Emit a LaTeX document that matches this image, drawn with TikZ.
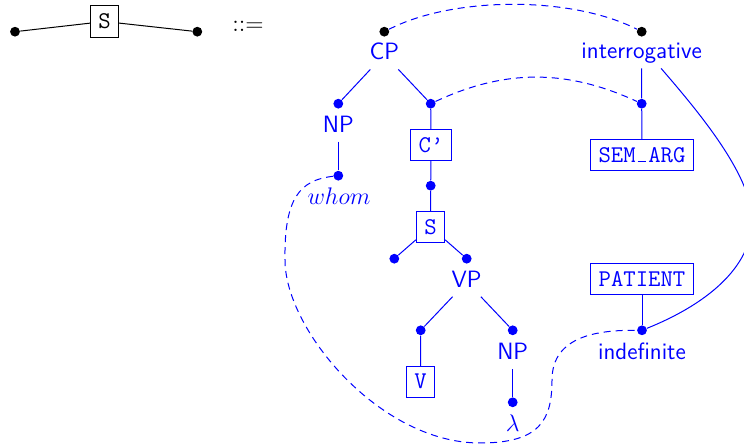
\documentclass[tikz,border=0pt]{standalone}
\newcommand{\myus}{\makebox[0.525em][c]{\rule{0.36em}{0.5pt}}}
\begin{document}
\begin{tikzpicture}[x=0.5pt,y=-0.5pt,
  dotb/.style={circle,fill=black,inner sep=0pt,minimum size=4.9pt},
  dotc/.style={dotb,fill=blue},
  lab/.style={text=blue,font=\fontsize{11.8}{14}\selectfont\sffamily,text height=8pt,text depth=2.5pt,inner sep=2pt,anchor=base},
  tbox/.style={draw=blue,text=blue,font=\fontsize{12}{14}\selectfont\ttfamily,inner sep=4pt,line width=0.5pt},
  conn/.style={draw=blue,line width=0.5pt},
  dashc/.style={conn,dash pattern=on 3.5pt off 2.5pt}]
\useasboundingbox (0,0) rectangle (744,448);
% left side
\node[dotb] (l0) at (15,31.7) {};
\node[draw,font=\fontsize{12}{14}\selectfont\ttfamily,inner sep=4pt,line width=0.5pt] (ls) at (104.5,21.5) {S};
\node[dotb] (l1) at (197.3,31.7) {};
\draw[line width=0.5pt] (l0) -- (ls) -- (l1);
\node[font=\fontsize{11.5}{14}\selectfont] (eq) at (248,26.5) {$::=$};
% tree
\node[dotb] (cpd) at (384.3,31.7) {};
\node[lab] (cpl) at (384.3,60) {CP};
\node[dotb] (intd) at (641.7,31.7) {};
\node[lab] (intl) at (641.7,59) {interrogative};
\node[dotc] (npd) at (338.3,103.7) {};
\node[lab] (npl) at (338.3,132.3) {NP};
\node[dotc] (whd) at (338.3,175.7) {};
\node[lab] (whl) at (339,205) {$whom$};
\node[dotc] (cd) at (430.7,103.7) {};
\node[tbox] (cbox) at (431,145) {C\textquoteright};
\node[dotc] (cd2) at (430.7,185.7) {};
\node[tbox] (sbox) at (430.5,227) {S};
\node[dotc] (sl) at (394.3,258.7) {};
\node[dotc] (sr) at (466.7,258.7) {};
\node[lab] (vpl) at (466.7,287.3) {VP};
\node[dotc] (vd) at (420.7,330.3) {};
\node[tbox] (vbox) at (420.5,381.7) {V};
\node[dotc] (np2d) at (512.7,330.3) {};
\node[lab] (np2l) at (512.7,360) {NP};
\node[dotc] (lamd) at (512.7,402.3) {};
\node[lab] (laml) at (512.7,431.7) {$\lambda$};
\node[dotc] (semd) at (641.7,103.7) {};
\node[tbox] (semb) at (642,155) {SEM\myus ARG};
\node[tbox] (patb) at (642,278.8) {PATIENT};
\node[dotc] (indd) at (642,330.3) {};
\node[lab] (indl) at (642,360) {indefinite};
% edges
\draw[conn] (cpl) -- (npd);
\draw[conn] (cpl) -- (cd);
\draw[conn] (npl) -- (whd);
\draw[conn] (cd) -- (cbox) -- (cd2) -- (sbox);
\draw[conn] (sbox) -- (sl);
\draw[conn] (sbox) -- (sr);
\draw[conn] (vpl) -- (vd);
\draw[conn] (vpl) -- (np2d);
\draw[conn] (vd) -- (vbox);
\draw[conn] (np2l) -- (lamd);
\draw[conn] (intl) -- (semd) -- (semb);
\draw[conn] (patb) -- (indd);
% dashed arcs
\draw[dashc] (cpd) .. controls (454,-4) and (572,-4) .. (intd);
\draw[dashc] (cd) .. controls (505,69) and (567,69) .. (semd);
\draw[dashc] (whd) .. controls (300,180) and (284,198) .. (285,260)
  .. controls (285,330) and (380,443) .. (480,443)
  .. controls (540,443) and (552,420) .. (552,380)
  .. controls (552,335) and (600,330) .. (indd);
% solid curve
\coordinate (istart) at ([xshift=9.7pt]intl.south);
\draw[conn] (istart) .. controls (697,110) and (752,175) .. (752,220)
  .. controls (752,268) and (705,305) .. (indd);
\end{tikzpicture}
\end{document}
